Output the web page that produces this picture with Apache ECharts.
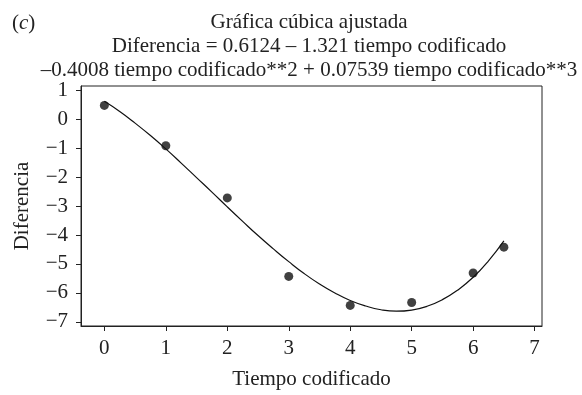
<!DOCTYPE html>
<html>
<head>
<meta charset="utf-8">
<script src="https://cdn.jsdelivr.net/npm/echarts@6/dist/echarts.min.js"></script>
<style>
  html, body { margin: 0; padding: 0; background: #fff; }
  #chart { width: 582px; height: 395px; }
</style>
</head>
<body>
<div id="chart"></div>
<script>
// observed points
var pointX = [0, 1, 2, 3, 4, 5, 6, 6.5];
var pointY = [0.47, -0.92, -2.72, -5.43, -6.43, -6.33, -5.31, -4.42];

// fitted cubic curve
var curveX = [0, 0.25, 0.5, 0.75, 1, 1.25, 1.5, 1.75, 2, 2.25, 2.5, 2.75, 3, 3.25,
  3.5, 3.75, 4, 4.25, 4.5, 4.75, 5, 5.25, 5.5, 5.75, 6, 6.25, 6.5];
var curveY = [0.61, 0.26, -0.14, -0.57, -1.03, -1.52, -2.02, -2.52, -3.03, -3.53,
  -4.02, -4.48, -4.92, -5.33, -5.69, -6.00, -6.26, -6.45, -6.58, -6.63, -6.59,
  -6.46, -6.23, -5.90, -5.46, -4.89, -4.20];

var xTicks = [0, 1, 2, 3, 4, 5, 6, 7];
var yTicks = [-7, -6, -5, -4, -3, -2, -1, 0, 1];

var titleLines = [
  'Gráfica cúbica ajustada',
  'Diferencia = 0.6124 – 1.321 tiempo codificado',
  '–0.4008 tiempo codificado**2 + 0.07539 tiempo codificado**3'
];

var FONT = 'Liberation Serif';
var FS = 21;
var INK = '#222';

function zip(xs, ys) {
  return xs.map(function (x, i) { return [x, ys[i]]; });
}

var chart = echarts.init(document.getElementById('chart'), null, { renderer: 'canvas' });

var titleFont = FS + 'px "Liberation Serif"';

var option = {
  backgroundColor: '#fff',
  animation: false,
  textStyle: { fontFamily: FONT },
  grid: {
    left: 81,
    right: 40,
    top: 86,
    bottom: 64,
    show: true,
    borderColor: INK,
    borderWidth: 1
  },
  graphic: [
    {
      type: 'text', x: 12, y: 13,
      style: {
        text: '({i|c})',
        font: titleFont,
        fill: INK,
        rich: { i: { fontStyle: 'italic', fontFamily: FONT, fontSize: FS, fill: INK } }
      }
    },
    { type: 'text', x: 309, y: 12, style: { text: titleLines[0], font: titleFont, fill: INK, textAlign: 'center' } },
    { type: 'text', x: 309, y: 36, style: { text: titleLines[1], font: titleFont, fill: INK, textAlign: 'center' } },
    { type: 'text', x: 309, y: 60, style: { text: titleLines[2], font: titleFont, fill: INK, textAlign: 'center' } }
  ],
  xAxis: {
    type: 'value',
    min: -0.38,
    max: 7.12,
    name: 'Tiempo codificado',
    nameLocation: 'middle',
    nameGap: 43,
    nameTextStyle: { fontFamily: FONT, fontSize: FS, color: INK },
    axisLine: { show: true, onZero: false, lineStyle: { color: INK, width: 1 } },
    axisTick: { show: true, length: 5, customValues: xTicks, lineStyle: { color: INK } },
    axisLabel: { customValues: xTicks, fontFamily: FONT, fontSize: FS, color: INK, margin: 12 },
    splitLine: { show: false }
  },
  yAxis: {
    type: 'value',
    min: -7.14,
    max: 1.14,
    name: 'Diferencia',
    nameLocation: 'middle',
    nameGap: 48,
    nameTextStyle: { fontFamily: FONT, fontSize: FS, color: INK },
    axisLine: { show: true, onZero: false, lineStyle: { color: INK, width: 1 } },
    axisTick: { show: true, length: 5, customValues: yTicks, lineStyle: { color: INK } },
    axisLabel: {
      customValues: yTicks,
      fontFamily: FONT,
      fontSize: FS,
      color: INK,
      margin: 13,
      formatter: function (v) { return String(v).replace('-', '−'); }
    },
    splitLine: { show: false }
  },
  series: [
    {
      name: 'Ajuste',
      type: 'line',
      data: zip(curveX, curveY),
      smooth: true,
      showSymbol: false,
      lineStyle: { color: '#111', width: 1.2 },
      z: 2
    },
    {
      name: 'Diferencia',
      type: 'scatter',
      data: zip(pointX, pointY),
      symbol: 'circle',
      symbolSize: 9,
      itemStyle: { color: '#111' },
      z: 3
    }
  ]
};

chart.setOption(option);
</script>
</body>
</html>
